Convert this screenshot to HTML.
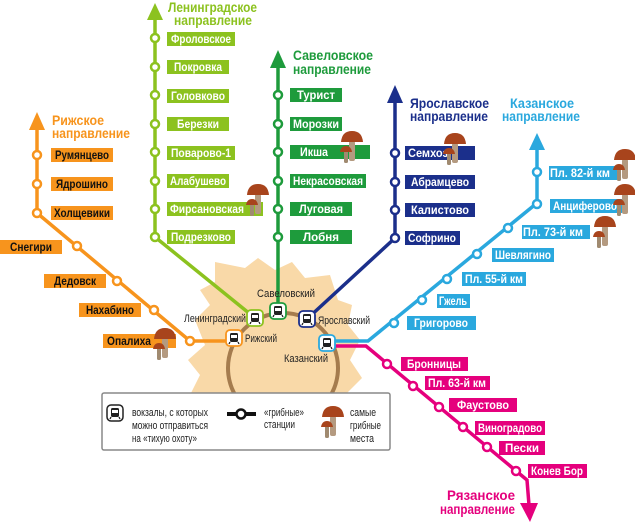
<!DOCTYPE html>
<html><head><meta charset="utf-8"><style>
html,body{margin:0;padding:0;background:#fff}
svg{display:block}
.l{font-family:"Liberation Sans",sans-serif;font-weight:bold;font-size:11.5px;fill:#fff}
.lo{font-family:"Liberation Sans",sans-serif;font-weight:bold;font-size:11.5px;fill:#111}
.d{font-family:"Liberation Sans",sans-serif;font-weight:bold;font-size:14px}
.s{font-family:"Liberation Sans",sans-serif;font-size:11px;fill:#222}
</style></head><body>
<svg width="635" height="526" viewBox="0 0 635 526" xmlns="http://www.w3.org/2000/svg">
<defs>
<g id="mush">
<rect x="-3" y="-2" width="6" height="20" rx="2" fill="#b49a80"/>
<path d="M-11,-1 Q-10,-12 0,-12 Q10,-12 11,-1 Z" fill="#a8441c"/>
<rect x="-8" y="8" width="4" height="12" rx="1.5" fill="#a08a70"/>
<path d="M-12,9 Q-11,3 -6,3 Q-1,3 0,9 Z" fill="#a8441c"/>
</g>
<g id="st">
<rect x="-8" y="-8" width="16" height="16" rx="4" fill="#fff"/>
<rect x="-4" y="-5" width="8" height="9" rx="1.5" fill="#222"/>
<rect x="-3" y="-3" width="6" height="3" fill="#fff"/>
<path d="M-4,4 L-5,6 M4,4 L5,6" stroke="#222" stroke-width="1.3"/>
</g>
</defs>
<path d="M215,262 L245,268 L258,258 L275,270 L292,262 L305,278 L330,275 L338,300 L352,305 L348,325 L360,340 L350,360 L362,378 L345,395 L350,420 L330,440 L300,445 L280,440 L250,448 L235,430 L210,440 L205,410 L190,395 L200,375 L188,360 L205,345 L195,320 L210,305 L200,290 L215,282 Z" fill="#f9d9a8"/>
<circle cx="283" cy="368" r="55" fill="none" stroke="#a57c4e" stroke-width="4"/>

<path d="M155,18 L155,237 L255,318" stroke="#8cc21f" stroke-width="3.5" fill="none"/>
<path d="M147,20 L155,3 L163,20 Z" fill="#8cc21f"/>
<path d="M278,65 L278,311" stroke="#1e9b3c" stroke-width="3.5" fill="none"/>
<path d="M270,68 L278,50 L286,68 Z" fill="#1e9b3c"/>
<path d="M395,100 L395,238 L307,319" stroke="#1b2f8b" stroke-width="3.5" fill="none"/>
<path d="M387,103 L395,85 L403,103 Z" fill="#1b2f8b"/>
<path d="M327,341 L368,341 L537,203 L537,148" stroke="#2aa8de" stroke-width="3.5" fill="none"/>
<path d="M529,150 L537,133 L545,150 Z" fill="#2aa8de"/>
<path d="M327,346 L366,346 L527,480 L529,505" stroke="#e5007d" stroke-width="3.5" fill="none"/>
<path d="M520,503 L530,522 L538,503 Z" fill="#e5007d"/>
<path d="M37,128 L37,213 L190,341 L234,341" stroke="#f7941d" stroke-width="3.5" fill="none"/>
<path d="M29,130 L37,112 L45,130 Z" fill="#f7941d"/>

<g fill="#fff" stroke-width="2.5">
<g stroke="#8cc21f"><circle cx="155" cy="38" r="4"/><circle cx="155" cy="67" r="4"/><circle cx="155" cy="95" r="4"/><circle cx="155" cy="124" r="4"/><circle cx="155" cy="152" r="4"/><circle cx="155" cy="181" r="4"/><circle cx="155" cy="209" r="4"/><circle cx="155" cy="237" r="4"/></g>
<g stroke="#1e9b3c"><circle cx="278" cy="95" r="4"/><circle cx="278" cy="124" r="4"/><circle cx="278" cy="152" r="4"/><circle cx="278" cy="181" r="4"/><circle cx="278" cy="209" r="4"/><circle cx="278" cy="237" r="4"/></g>
<g stroke="#1b2f8b"><circle cx="395" cy="153" r="4"/><circle cx="395" cy="182" r="4"/><circle cx="395" cy="210" r="4"/><circle cx="395" cy="238" r="4"/></g>
<g stroke="#2aa8de"><circle cx="537" cy="172" r="4"/><circle cx="537" cy="204" r="4"/><circle cx="508" cy="228" r="4"/><circle cx="477" cy="254" r="4"/><circle cx="447" cy="279" r="4"/><circle cx="422" cy="300" r="4"/><circle cx="394" cy="323" r="4"/></g>
<g stroke="#e5007d"><circle cx="387" cy="364" r="4"/><circle cx="413" cy="386" r="4"/><circle cx="439" cy="407" r="4"/><circle cx="463" cy="427" r="4"/><circle cx="487" cy="447" r="4"/><circle cx="516" cy="471" r="4"/></g>
<g stroke="#f7941d"><circle cx="37" cy="155" r="4"/><circle cx="37" cy="184" r="4"/><circle cx="37" cy="213" r="4"/><circle cx="77" cy="246" r="4"/><circle cx="117" cy="281" r="4"/><circle cx="154" cy="310" r="4"/><circle cx="190" cy="341" r="4"/></g>
</g>

<g fill="#8cc21f">
<rect x="167" y="32" width="68" height="14"/><rect x="167" y="60" width="62" height="14"/><rect x="167" y="89" width="62" height="14"/><rect x="167" y="117" width="62" height="14"/><rect x="167" y="146" width="68" height="14"/><rect x="167" y="174" width="62" height="14"/><rect x="167" y="202" width="96" height="14"/><rect x="167" y="230" width="68" height="14"/>
</g>
<g class="l" text-anchor="middle" lengthAdjust="spacingAndGlyphs">
<text x="201" y="43" textLength="60" lengthAdjust="spacingAndGlyphs">Фроловское</text>
<text x="198" y="71" textLength="48" lengthAdjust="spacingAndGlyphs">Покровка</text>
<text x="198" y="100" textLength="54" lengthAdjust="spacingAndGlyphs">Головково</text>
<text x="198" y="128" textLength="42" lengthAdjust="spacingAndGlyphs">Березки</text>
<text x="201" y="157" textLength="60" lengthAdjust="spacingAndGlyphs">Поварово-1</text>
<text x="198" y="185" textLength="56" lengthAdjust="spacingAndGlyphs">Алабушево</text>
<text x="207" y="213" textLength="74" lengthAdjust="spacingAndGlyphs">Фирсановская</text>
<text x="201" y="241" textLength="60" lengthAdjust="spacingAndGlyphs">Подрезково</text>
</g>
<g fill="#1e9b3c">
<rect x="290" y="88" width="52" height="14"/><rect x="290" y="117" width="52" height="14"/><rect x="290" y="145" width="80" height="14"/><rect x="290" y="174" width="76" height="14"/><rect x="290" y="202" width="62" height="14"/><rect x="290" y="230" width="62" height="14"/>
</g>
<g class="l" text-anchor="middle">
<text x="316" y="99" textLength="38" lengthAdjust="spacingAndGlyphs">Турист</text>
<text x="316" y="128" textLength="46" lengthAdjust="spacingAndGlyphs">Морозки</text>
<text x="314" y="156" textLength="28" lengthAdjust="spacingAndGlyphs">Икша</text>
<text x="328" y="185" textLength="70" lengthAdjust="spacingAndGlyphs">Некрасовская</text>
<text x="321" y="213" textLength="44" lengthAdjust="spacingAndGlyphs">Луговая</text>
<text x="321" y="241" textLength="36" lengthAdjust="spacingAndGlyphs">Лобня</text>
</g>
<g fill="#1b2f8b">
<rect x="405" y="146" width="70" height="14"/><rect x="405" y="175" width="70" height="14"/><rect x="405" y="203" width="70" height="14"/><rect x="405" y="231" width="55" height="14"/>
</g>
<g class="l" text-anchor="middle">
<text x="428" y="157" textLength="40" lengthAdjust="spacingAndGlyphs">Семхоз</text>
<text x="440" y="186" textLength="58" lengthAdjust="spacingAndGlyphs">Абрамцево</text>
<text x="440" y="214" textLength="58" lengthAdjust="spacingAndGlyphs">Калистово</text>
<text x="432" y="242" textLength="48" lengthAdjust="spacingAndGlyphs">Софрино</text>
</g>
<g fill="#2aa8de">
<rect x="549" y="166" width="68" height="14"/><rect x="550" y="199" width="72" height="14"/><rect x="522" y="225" width="68" height="14"/><rect x="492" y="248" width="62" height="14"/><rect x="462" y="272" width="64" height="14"/><rect x="437" y="294" width="33" height="14"/><rect x="407" y="316" width="69" height="14"/>
</g>
<g class="l" text-anchor="middle">
<text x="580" y="177" textLength="60" lengthAdjust="spacingAndGlyphs">Пл. 82-й км</text>
<text x="585" y="210" textLength="64" lengthAdjust="spacingAndGlyphs">Анциферово</text>
<text x="553" y="236" textLength="60" lengthAdjust="spacingAndGlyphs">Пл. 73-й км</text>
<text x="523" y="259" textLength="56" lengthAdjust="spacingAndGlyphs">Шевлягино</text>
<text x="494" y="283" textLength="58" lengthAdjust="spacingAndGlyphs">Пл. 55-й км</text>
<text x="453" y="305" textLength="28" lengthAdjust="spacingAndGlyphs">Гжель</text>
<text x="441" y="327" textLength="54" lengthAdjust="spacingAndGlyphs">Григорово</text>
</g>
<g fill="#e5007d">
<rect x="401" y="357" width="67" height="14"/><rect x="425" y="376" width="65" height="14"/><rect x="449" y="398" width="68" height="14"/><rect x="475" y="421" width="70" height="14"/><rect x="499" y="441" width="46" height="14"/><rect x="528" y="464" width="59" height="14"/>
</g>
<g class="l" text-anchor="middle">
<text x="434" y="368" textLength="54" lengthAdjust="spacingAndGlyphs">Бронницы</text>
<text x="457" y="387" textLength="58" lengthAdjust="spacingAndGlyphs">Пл. 63-й км</text>
<text x="483" y="409" textLength="52" lengthAdjust="spacingAndGlyphs">Фаустово</text>
<text x="510" y="432" textLength="64" lengthAdjust="spacingAndGlyphs">Виноградово</text>
<text x="522" y="452" textLength="34" lengthAdjust="spacingAndGlyphs">Пески</text>
<text x="557" y="475" textLength="52" lengthAdjust="spacingAndGlyphs">Конев Бор</text>
</g>
<g fill="#f7941d">
<rect x="51" y="148" width="62" height="14"/><rect x="51" y="177" width="62" height="14"/><rect x="51" y="206" width="62" height="14"/><rect x="0" y="240" width="62" height="14"/><rect x="44" y="274" width="62" height="14"/><rect x="79" y="303" width="62" height="14"/><rect x="103" y="334" width="73" height="14"/>
</g>
<g class="lo" text-anchor="middle">
<text x="82" y="159" textLength="54" lengthAdjust="spacingAndGlyphs">Румянцево</text>
<text x="82" y="188" textLength="52" lengthAdjust="spacingAndGlyphs">Ядрошино</text>
<text x="82" y="217" textLength="56" lengthAdjust="spacingAndGlyphs">Холщевики</text>
<text x="31" y="251" textLength="42" lengthAdjust="spacingAndGlyphs">Снегири</text>
<text x="75" y="285" textLength="42" lengthAdjust="spacingAndGlyphs">Дедовск</text>
<text x="110" y="314" textLength="48" lengthAdjust="spacingAndGlyphs">Нахабино</text>
<text x="129" y="345" textLength="44" lengthAdjust="spacingAndGlyphs">Опалиха</text>
</g>

<g class="d">
<text x="168" y="12" fill="#8cc21f" textLength="89" lengthAdjust="spacingAndGlyphs">Ленинградское</text><text x="174" y="25" fill="#8cc21f" textLength="78" lengthAdjust="spacingAndGlyphs">направление</text>
<text x="293" y="60" fill="#1e9b3c" textLength="80" lengthAdjust="spacingAndGlyphs">Савеловское</text><text x="293" y="74" fill="#1e9b3c" textLength="78" lengthAdjust="spacingAndGlyphs">направление</text>
<text x="410" y="108" fill="#1b2f8b" textLength="79" lengthAdjust="spacingAndGlyphs">Ярославское</text><text x="410" y="121" fill="#1b2f8b" textLength="78" lengthAdjust="spacingAndGlyphs">направление</text>
<text x="510" y="108" fill="#2aa8de" textLength="64" lengthAdjust="spacingAndGlyphs">Казанское</text><text x="502" y="121" fill="#2aa8de" textLength="78" lengthAdjust="spacingAndGlyphs">направление</text>
<text x="52" y="125" fill="#f7941d" textLength="52" lengthAdjust="spacingAndGlyphs">Рижское</text><text x="52" y="138" fill="#f7941d" textLength="78" lengthAdjust="spacingAndGlyphs">направление</text>
<text x="447" y="500" fill="#e5007d" textLength="68" lengthAdjust="spacingAndGlyphs">Рязанское</text><text x="440" y="514" fill="#e5007d" textLength="75" lengthAdjust="spacingAndGlyphs">направление</text>
</g>

<use href="#mush" x="258" y="196"/><use href="#mush" x="352" y="143"/><use href="#mush" x="455" y="145"/>
<use href="#mush" x="625" y="161"/><use href="#mush" x="625" y="196"/><use href="#mush" x="605" y="228"/><use href="#mush" x="165" y="340"/>

<g stroke-width="1.8">
<use href="#st" x="255" y="318"/><rect x="247" y="310" width="16" height="16" rx="4" fill="none" stroke="#8cc21f"/>
<use href="#st" x="278" y="311"/><rect x="270" y="303" width="16" height="16" rx="4" fill="none" stroke="#1e9b3c"/>
<use href="#st" x="307" y="319"/><rect x="299" y="311" width="16" height="16" rx="4" fill="none" stroke="#1b2f8b"/>
<use href="#st" x="234" y="338"/><rect x="226" y="330" width="16" height="16" rx="4" fill="none" stroke="#f7941d"/>
<use href="#st" x="327" y="343"/><rect x="319" y="335" width="16" height="16" rx="4" fill="none" stroke="#2aa8de"/>
</g>
<g class="s">
<text x="184" y="322" textLength="62" lengthAdjust="spacingAndGlyphs">Ленинградский</text>
<text x="257" y="297" textLength="58" lengthAdjust="spacingAndGlyphs">Савеловский</text>
<text x="318" y="324" textLength="52" lengthAdjust="spacingAndGlyphs">Ярославский</text>
<text x="245" y="342" textLength="32" lengthAdjust="spacingAndGlyphs">Рижский</text>
<text x="284" y="362" textLength="44" lengthAdjust="spacingAndGlyphs">Казанский</text>
</g>

<rect x="102" y="393" width="288" height="57" rx="2" fill="#fff" stroke="#888" stroke-width="1.5"/>
<use href="#st" x="115" y="413"/><rect x="107" y="405" width="16" height="16" rx="4" fill="none" stroke="#222" stroke-width="1.5"/>
<g class="s">
<text x="132" y="416" textLength="76" lengthAdjust="spacingAndGlyphs">вокзалы, с которых</text>
<text x="132" y="429" textLength="76" lengthAdjust="spacingAndGlyphs">можно отправиться</text>
<text x="132" y="442" textLength="65" lengthAdjust="spacingAndGlyphs">на «тихую охоту»</text>
<text x="264" y="416" textLength="40" lengthAdjust="spacingAndGlyphs">«грибные»</text>
<text x="264" y="428" textLength="31" lengthAdjust="spacingAndGlyphs">станции</text>
<text x="350" y="416" textLength="26" lengthAdjust="spacingAndGlyphs">самые</text>
<text x="350" y="429" textLength="31" lengthAdjust="spacingAndGlyphs">грибные</text>
<text x="350" y="442" textLength="24" lengthAdjust="spacingAndGlyphs">места</text>
</g>
<path d="M227,414 L256,414" stroke="#111" stroke-width="4"/>
<circle cx="241" cy="414" r="4.5" fill="#fff" stroke="#111" stroke-width="2.5"/>
<use href="#mush" x="333" y="418"/>
</svg>
</body></html>
